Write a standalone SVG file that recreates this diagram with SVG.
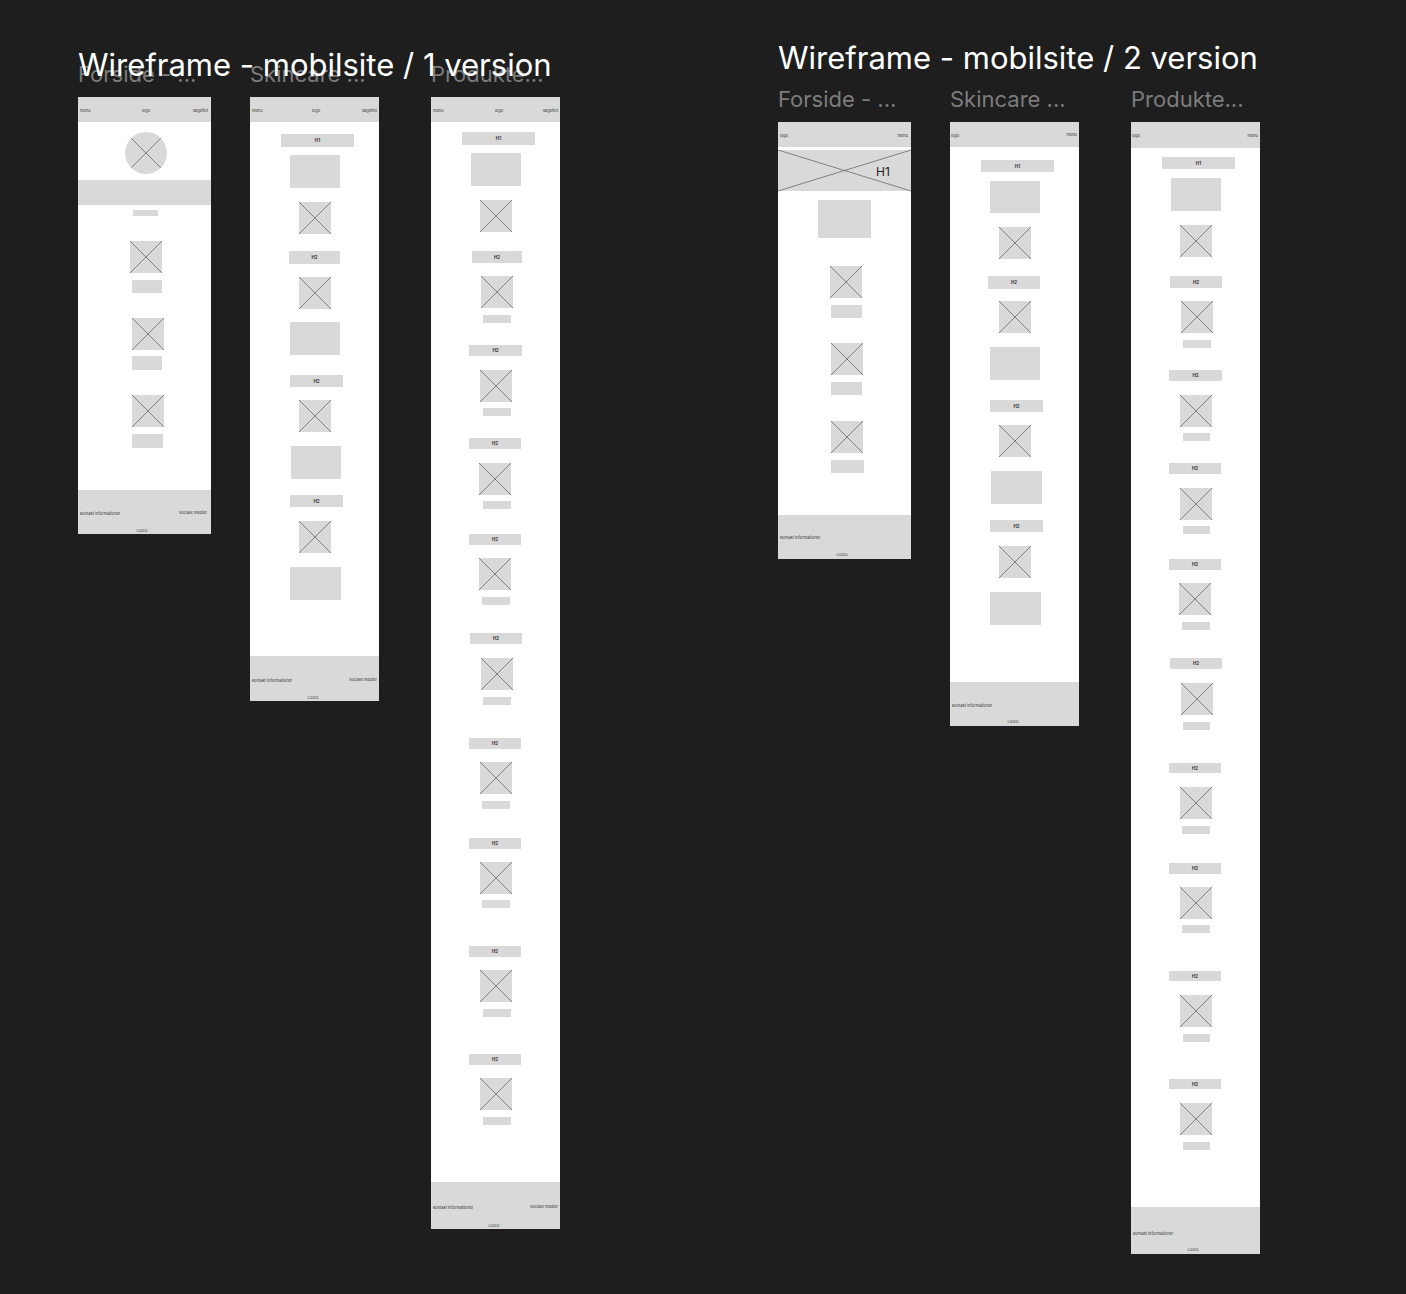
<svg xmlns="http://www.w3.org/2000/svg" xmlns:xlink="http://www.w3.org/1999/xlink" width="1406" height="1294" viewBox="0 0 1406 1294">
<style>
.title{font-family:Inter,"Liberation Sans",sans-serif;font-size:31px;fill:#ffffff}
.lbl{font-family:Inter,"Liberation Sans",sans-serif;font-size:22px;fill:#7c7c7c}
.frame{fill:#ffffff}
.ph{fill:#d9d9d9}
.xl{stroke:#5a5a5a;stroke-width:0.7;fill:none}
.tiny{font-family:Inter,"Liberation Sans",sans-serif;font-size:4px;fill:#333}
.hd{font-family:Inter,"Liberation Sans",sans-serif;font-size:4.5px;font-weight:bold;fill:#333;text-anchor:middle}
.mid{text-anchor:middle}
.end{text-anchor:end}
</style>
<defs>
<g id="xb"><rect width="32" height="32" class="ph"/><path d="M0 0L32 32M32 0L0 32" class="xl"/></g>
</defs>
<rect width="1406" height="1294" fill="#1e1e1e"/>

<g id="labels-v1">
<text class="lbl" x="78" y="82">Forside - ...</text>
<text class="lbl" x="250" y="82">Skincare ...</text>
<text class="lbl" x="431" y="82">Produkte...</text>
</g>
<text id="title-v1" class="title" x="78" y="76">Wireframe - mobilsite / 1 version</text>

<g id="labels-v2">
<text class="lbl" x="778" y="107">Forside - ...</text>
<text class="lbl" x="950" y="107">Skincare ...</text>
<text class="lbl" x="1131" y="107">Produkte...</text>
</g>
<text id="title-v2" class="title" x="778" y="69">Wireframe - mobilsite / 2 version</text>

<g id="forside-v1" transform="translate(78,97)">
<rect class="frame" width="133" height="437"/>
<rect class="ph" width="133" height="25"/>
<text class="tiny" x="2" y="15">menu</text>
<text class="tiny mid" x="68" y="15">logo</text>
<text class="tiny end" x="130" y="15">søgefelt</text>
<circle cx="68" cy="56" r="21" class="ph"/>
<path d="M53.2 41.2L82.8 70.8M82.8 41.2L53.2 70.8" class="xl"/>
<rect class="ph" x="0" y="83" width="133" height="25"/>
<rect class="ph" x="55" y="113" width="25" height="6"/>
<use href="#xb" x="52" y="144"/>
<rect class="ph" x="54" y="183" width="30" height="13"/>
<use href="#xb" x="54" y="221"/>
<rect class="ph" x="54" y="259" width="30" height="14"/>
<use href="#xb" x="54" y="298"/>
<rect class="ph" x="54" y="337" width="31" height="14"/>
<rect class="ph" x="0" y="393" width="133" height="44"/>
<text class="tiny" x="2" y="418">kontakt informationer</text>
<text class="tiny end" x="129" y="417">Sociale medier</text>
<text class="tiny mid" x="64" y="435">LOGO</text>
</g>

<g id="skincare-v1" transform="translate(250,97)">
<rect class="frame" width="129" height="604"/>
<rect class="ph" width="129" height="25"/>
<text class="tiny" x="2" y="15">menu</text>
<text class="tiny mid" x="66" y="15">logo</text>
<text class="tiny end" x="127" y="15">søgefelt</text>
<rect class="ph" x="31" y="37" width="73" height="13"/>
<text class="hd" x="67.5" y="45">H1</text>
<rect class="ph" x="40" y="58" width="50" height="33"/>
<use href="#xb" x="49" y="105"/>
<rect class="ph" x="39" y="154" width="51" height="13"/>
<text class="hd" x="64.5" y="162">H2</text>
<use href="#xb" x="49" y="180"/>
<rect class="ph" x="40" y="225" width="50" height="33"/>
<rect class="ph" x="40" y="278" width="53" height="12"/>
<text class="hd" x="66.5" y="285.5">H2</text>
<use href="#xb" x="49" y="303"/>
<rect class="ph" x="41" y="349" width="50" height="33"/>
<rect class="ph" x="40" y="398" width="53" height="12"/>
<text class="hd" x="66.5" y="405.5">H2</text>
<use href="#xb" x="49" y="424"/>
<rect class="ph" x="40" y="470" width="51" height="33"/>
<rect class="ph" x="0" y="559" width="129" height="45"/>
<text class="tiny" x="2" y="585">kontakt informationer</text>
<text class="tiny end" x="127" y="584">Sociale medier</text>
<text class="tiny mid" x="63" y="602">LOGO</text>
</g>

<g id="produkter-v1" transform="translate(431,97)">
<rect class="frame" width="129" height="1132"/>
<rect class="ph" width="129" height="25"/>
<text class="tiny" x="2" y="15">menu</text>
<text class="tiny mid" x="68" y="15">logo</text>
<text class="tiny end" x="127" y="15">søgefelt</text>
<rect class="ph" x="31" y="35" width="73" height="13"/>
<text class="hd" x="67.5" y="43">H1</text>
<rect class="ph" x="40" y="56" width="50" height="33"/>
<use href="#xb" x="49" y="103"/>
<rect class="ph" x="41" y="154" width="50" height="12"/><text class="hd" x="66" y="161.5">H2</text>
<use href="#xb" x="50" y="179"/><rect class="ph" x="52" y="218" width="28" height="8"/>
<rect class="ph" x="38" y="248" width="53" height="11"/><text class="hd" x="64.5" y="255">H2</text>
<use href="#xb" x="49" y="273"/><rect class="ph" x="52" y="311" width="28" height="8"/>
<rect class="ph" x="38" y="341" width="52" height="11"/><text class="hd" x="64" y="348">H2</text>
<use href="#xb" x="48" y="366"/><rect class="ph" x="52" y="404" width="28" height="8"/>
<rect class="ph" x="38" y="437" width="52" height="11"/><text class="hd" x="64" y="444">H2</text>
<use href="#xb" x="48" y="461"/><rect class="ph" x="51" y="500" width="28" height="8"/>
<rect class="ph" x="39" y="536" width="52" height="11"/><text class="hd" x="65" y="543">H2</text>
<use href="#xb" x="50" y="561"/><rect class="ph" x="52" y="600" width="28" height="8"/>
<rect class="ph" x="38" y="641" width="52" height="11"/><text class="hd" x="64" y="648">H2</text>
<use href="#xb" x="49" y="665"/><rect class="ph" x="51" y="704" width="28" height="8"/>
<rect class="ph" x="38" y="741" width="52" height="11"/><text class="hd" x="64" y="748">H2</text>
<use href="#xb" x="49" y="765"/><rect class="ph" x="51" y="803" width="28" height="8"/>
<rect class="ph" x="38" y="849" width="52" height="11"/><text class="hd" x="64" y="856">H2</text>
<use href="#xb" x="49" y="873"/><rect class="ph" x="52" y="912" width="28" height="8"/>
<rect class="ph" x="38" y="957" width="52" height="11"/><text class="hd" x="64" y="964">H2</text>
<use href="#xb" x="49" y="981"/><rect class="ph" x="52" y="1020" width="28" height="8"/>
<rect class="ph" x="0" y="1085" width="129" height="47"/>
<text class="tiny" x="2" y="1112">kontakt informationer</text>
<text class="tiny end" x="127" y="1111">Sociale medier</text>
<text class="tiny mid" x="63" y="1130">LOGO</text>
</g>

<g id="forside-v2" transform="translate(778,122)">
<rect class="frame" width="133" height="437"/>
<rect class="ph" width="133" height="25"/>
<text class="tiny" x="2" y="15">logo</text>
<text class="tiny end" x="130" y="15">menu</text>
<rect class="ph" x="0" y="28" width="133" height="41"/>
<path d="M0 28L133 69M133 28L0 69" class="xl"/>
<text x="105" y="54" class="mid" style="font-family:Inter,'Liberation Sans',sans-serif;font-size:12px;fill:#222">H1</text>
<rect class="ph" x="40" y="78" width="53" height="38"/>
<use href="#xb" x="52" y="144"/>
<rect class="ph" x="53" y="183" width="31" height="13"/>
<use href="#xb" x="53" y="221"/>
<rect class="ph" x="53" y="260" width="31" height="13"/>
<use href="#xb" x="53" y="299"/>
<rect class="ph" x="53" y="338" width="33" height="13"/>
<rect class="ph" x="0" y="393" width="133" height="44"/>
<text class="tiny" x="2" y="417">kontakt informationer</text>
<text class="tiny mid" x="64" y="434">LOGO</text>
</g>

<g id="skincare-v2" transform="translate(950,122)">
<rect class="frame" width="129" height="604"/>
<rect class="ph" width="129" height="25"/>
<text class="tiny" x="1" y="15">logo</text>
<text class="tiny end" x="127" y="14">menu</text>
<rect class="ph" x="31" y="38" width="73" height="12"/>
<text class="hd" x="67.5" y="45.5">H1</text>
<rect class="ph" x="40" y="59" width="50" height="32"/>
<use href="#xb" x="49" y="105"/>
<rect class="ph" x="38" y="154" width="52" height="13"/>
<text class="hd" x="64" y="162">H2</text>
<use href="#xb" x="49" y="179"/>
<rect class="ph" x="40" y="225" width="50" height="33"/>
<rect class="ph" x="40" y="278" width="53" height="12"/>
<text class="hd" x="66.5" y="285.5">H2</text>
<use href="#xb" x="49" y="303"/>
<rect class="ph" x="41" y="349" width="51" height="33"/>
<rect class="ph" x="40" y="398" width="53" height="12"/>
<text class="hd" x="66.5" y="405.5">H2</text>
<use href="#xb" x="49" y="424"/>
<rect class="ph" x="40" y="470" width="51" height="33"/>
<rect class="ph" x="0" y="560" width="129" height="44"/>
<text class="tiny" x="2" y="585">kontakt informationer</text>
<text class="tiny mid" x="63" y="601">LOGO</text>
</g>

<g id="produkter-v2" transform="translate(1131,122)">
<rect class="frame" width="129" height="1132"/>
<rect class="ph" width="129" height="26"/>
<text class="tiny" x="1" y="15">logo</text>
<text class="tiny end" x="127" y="15">menu</text>
<rect class="ph" x="31" y="35" width="73" height="12"/>
<text class="hd" x="67.5" y="42.5">H1</text>
<rect class="ph" x="40" y="56" width="50" height="33"/>
<use href="#xb" x="49" y="103"/>
<rect class="ph" x="39" y="154" width="52" height="12"/><text class="hd" x="65" y="161.5">H2</text>
<use href="#xb" x="50" y="179"/><rect class="ph" x="52" y="218" width="28" height="8"/>
<rect class="ph" x="38" y="248" width="53" height="11"/><text class="hd" x="64.5" y="255">H2</text>
<use href="#xb" x="49" y="273"/><rect class="ph" x="52" y="311" width="27" height="8"/>
<rect class="ph" x="38" y="341" width="52" height="11"/><text class="hd" x="64" y="348">H2</text>
<use href="#xb" x="49" y="366"/><rect class="ph" x="52" y="404" width="27" height="8"/>
<rect class="ph" x="38" y="437" width="52" height="11"/><text class="hd" x="64" y="444">H2</text>
<use href="#xb" x="48" y="461"/><rect class="ph" x="51" y="500" width="28" height="8"/>
<rect class="ph" x="39" y="536" width="52" height="11"/><text class="hd" x="65" y="543">H2</text>
<use href="#xb" x="50" y="561"/><rect class="ph" x="52" y="600" width="27" height="8"/>
<rect class="ph" x="38" y="641" width="52" height="10"/><text class="hd" x="64" y="647.5">H2</text>
<use href="#xb" x="49" y="665"/><rect class="ph" x="51" y="704" width="28" height="8"/>
<rect class="ph" x="38" y="741" width="52" height="11"/><text class="hd" x="64" y="748">H2</text>
<use href="#xb" x="49" y="765"/><rect class="ph" x="51" y="803" width="28" height="8"/>
<rect class="ph" x="38" y="849" width="52" height="10"/><text class="hd" x="64" y="855.5">H2</text>
<use href="#xb" x="49" y="873"/><rect class="ph" x="52" y="912" width="27" height="8"/>
<rect class="ph" x="38" y="957" width="52" height="10"/><text class="hd" x="64" y="963.5">H2</text>
<use href="#xb" x="49" y="981"/><rect class="ph" x="52" y="1020" width="27" height="8"/>
<rect class="ph" x="0" y="1085" width="129" height="47"/>
<text class="tiny" x="2" y="1113">kontakt informationer</text>
<text class="tiny mid" x="62" y="1129">LOGO</text>
</g>
</svg>
